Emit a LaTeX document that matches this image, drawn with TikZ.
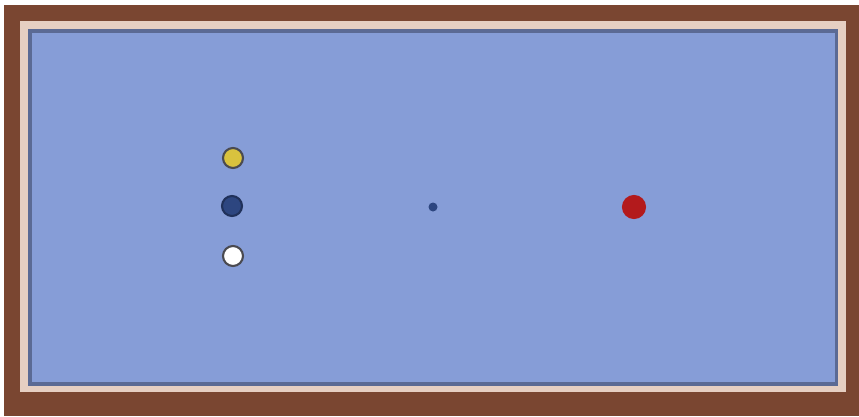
\documentclass[tikz,border=0pt]{standalone}
\usetikzlibrary{positioning}
\definecolor{TableWood}{HTML}{7A4631}
\definecolor{TableRail}{HTML}{E6CFC2}
\definecolor{TableEdge}{HTML}{5B6A94}
\definecolor{TableCloth}{HTML}{869DD7}
\definecolor{BallYellow}{HTML}{D9C23E}
\definecolor{BallBlue}{HTML}{2D4680}
\definecolor{BallRed}{HTML}{B31A1C}
\definecolor{BallRim}{HTML}{4A4A50}
\tikzset{
  ball/.style={circle, inner sep=0pt, minimum size=20\pxu, draw=BallRim, line width=1.2pt},
  spot/.style={circle, inner sep=0pt, minimum size=9\pxu, fill=BallBlue},
}
\newcommand{\pxu}{*0.02cm}
\begin{document}
\begin{tikzpicture}[x=0.02cm,y=-0.02cm]
  \useasboundingbox (0,0) rectangle (859,416);
  % Frame
  \fill[white] (0,0) rectangle (859,416);
  \fill[TableWood] (4,5) rectangle (859,416);
  \fill[TableRail] (20,21) rectangle (846,392);
  \fill[TableEdge] (28,29) rectangle (838,386);
  \fill[TableCloth] (32,33) rectangle (835,382);
  % Balls
  \node[ball, fill=BallYellow] (yellow) at (233,158) {};
  \node[ball, fill=BallBlue, draw=BallBlue!70!black] (blue) at (232,206) {};
  \node[ball, fill=white] (white) at (233,256) {};
  \node[spot] (centre) at (433,207) {};
  \node[ball, fill=BallRed, draw=BallRed, minimum size=22\pxu] (red) at (634,207) {};
\end{tikzpicture}
\end{document}
